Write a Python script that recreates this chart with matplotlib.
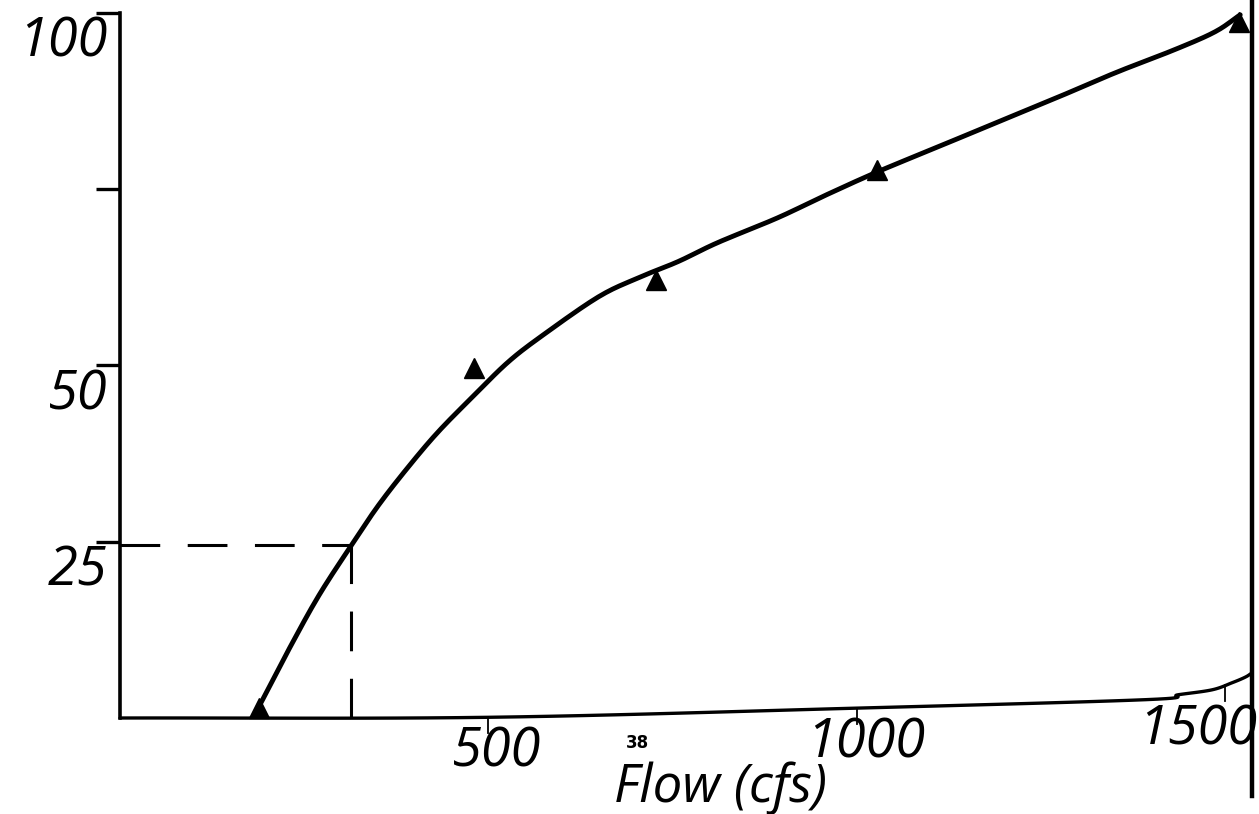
import numpy as np
import matplotlib
matplotlib.use("Agg")
import matplotlib.pyplot as plt

# ---- data ----
curve_flow = [189, 230, 270, 314, 351, 392, 432, 480, 527, 574, 649, 703, 757,
              811, 892, 959, 1027, 1108, 1189, 1270, 1351, 1432, 1486, 1520]
curve_val = [1.7, 9.9, 17.4, 24.5, 30.2, 35.7, 40.6, 45.7, 50.5, 54.3, 59.7,
             62.4, 64.7, 67.4, 70.9, 74.2, 77.4, 80.9, 84.4, 87.9, 91.5, 94.8,
             97.3, 99.7]

obs_flow = [189, 481, 727, 1027, 1518]
obs_val = [1.4, 49.6, 62.1, 77.7, 98.7]

ref_flow = 314
ref_val = 24.5

baseline_flow = [0, 500, 1000, 1392, 1436, 1482, 1509, 1527, 1536]
baseline_val = [0, 0.1, 1.4, 2.6, 3.3, 4.0, 5.0, 5.8, 6.4]

xticks = [500, 1000, 1500]
xtick_labels = ["500", "1000", "1500"]
yticks = [25, 50, 75, 100]
ytick_labels = ["25", "50", "", "100"]
xlabel = "Flow (cfs)"
page_number = "38"


def smooth(x, y, n=12):
    """Catmull-Rom curve through the given points (drawing only)."""
    p = np.column_stack([x, y]).astype(float)
    p = np.vstack([2 * p[0] - p[1], p, 2 * p[-1] - p[-2]])
    out = []
    t = np.linspace(0, 1, n, endpoint=False)[:, None]
    for i in range(1, len(p) - 2):
        p0, p1, p2, p3 = p[i - 1], p[i], p[i + 1], p[i + 2]
        seg = 0.5 * ((2 * p1) + (-p0 + p2) * t + (2 * p0 - 5 * p1 + 4 * p2 - p3) * t ** 2
                     + (-p0 + 3 * p1 - 3 * p2 + p3) * t ** 3)
        out.append(seg)
    out.append(p[-2][None, :])
    out = np.vstack(out)
    return out[:, 0], out[:, 1]


# ---- figure ----
W, H = 1259, 814
fig = plt.figure(figsize=(W / 100, H / 100), dpi=100)
ax = fig.add_axes([120 / W, 1 - 718 / H, (1252 - 120) / W, 718 / H])
ax.set_xlim(0, 1536)
ax.set_ylim(0, 101.8)

hand = dict(family=["Open Sans", "DejaVu Sans"], style="italic", weight="normal")

for s in ["top", "bottom"]:
    ax.spines[s].set_visible(False)
ax.spines["left"].set_linewidth(2.6)
ax.spines["left"].set_bounds(0, 100)
ax.spines["right"].set_linewidth(3.2)
ax.spines["right"].set_bounds(-11, 101.8)

# curled baseline (x axis as drawn)
bx, by = smooth(baseline_flow, baseline_val)
ax.plot(bx, by, color="black", lw=2.4, clip_on=False, solid_capstyle="round")

# main curve
cx, cy = smooth(curve_flow, curve_val)
ax.plot(cx, cy, color="black", lw=3.5, solid_joinstyle="round",
        solid_capstyle="round", zorder=3)
ax.plot(obs_flow, obs_val, linestyle="none", marker="^", markersize=14,
        color="black", zorder=4, clip_on=False)

# dashed reference lines
ax.plot([0, ref_flow], [ref_val, ref_val], color="black", lw=2.2,
        dashes=(13, 9), zorder=2)
ax.plot([ref_flow, ref_flow], [0, ref_val], color="black", lw=2.2,
        dashes=(13, 9), zorder=2)

# y ticks
ax.set_yticks(yticks)
ax.set_yticklabels([])
ax.tick_params(axis="y", direction="out", length=17, width=2.4)
for v, lab in zip(yticks, ytick_labels):
    if lab:
        ax.annotate(lab, xy=(0, v), xytext=(-9, -21), textcoords="offset points",
                    ha="right", va="center", fontsize=39, **hand)

# x ticks drawn on the curled baseline
ax.set_xticks([])
for i, (f, lab) in enumerate(zip(xticks, xtick_labels)):
    base = np.interp(f, baseline_flow, baseline_val)
    ax.plot([f, f], [base, base - 2.2], color="black", lw=1.3, clip_on=False)
    last = i == len(xticks) - 1
    ax.annotate(lab, xy=(f, base), xytext=(23 if last else 6, -32 if last else -25),
                textcoords="offset points", ha="right" if last else "center",
                va="center", fontsize=39, annotation_clip=False, **hand)

fig.text(720 / W, 1 - 788 / H, xlabel, ha="center", va="center", fontsize=38,
         **hand)
fig.text(637 / W, 1 - 743 / H, page_number, ha="center", va="center",
         fontsize=12, family="DejaVu Sans", weight="bold")

fig.savefig("out.png", dpi=100, facecolor="white")
